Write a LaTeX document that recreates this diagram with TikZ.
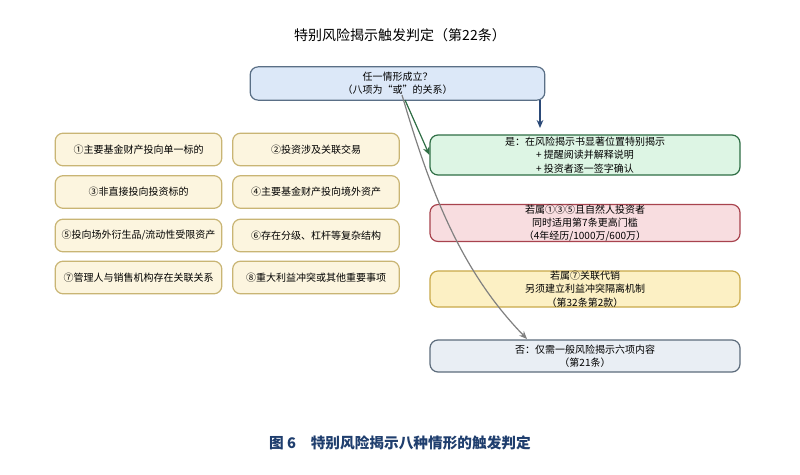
\documentclass[tikz,border=0pt]{standalone}
\usepackage{fontspec}
\setmainfont{Noto Sans CJK SC}
\begin{document}
\begin{tikzpicture}[x=0.75pt,y=-0.75pt,
 box/.style={draw, rounded corners=6pt, line width=0.9pt, align=center, font=\fontsize{7.5}{10}\selectfont, inner sep=0pt},
 lb/.style={box, draw=lbd, fill=lbf, minimum width=125pt, minimum height=24.5pt},
 rb/.style={box, minimum width=232.5pt, minimum height=27pt},
 arr/.style={line width=0.9pt, -{Stealth[length=6pt,width=5pt]}}]
\usetikzlibrary{arrows.meta}
\definecolor{lbf}{HTML}{FCF5DF}\definecolor{lbd}{HTML}{C9B574}
\definecolor{topf}{HTML}{DCE8F8}\definecolor{topd}{HTML}{5A6F86}
\definecolor{gf}{HTML}{DDF5E4}\definecolor{gd}{HTML}{2F6E45}
\definecolor{rf}{HTML}{F8DDE0}\definecolor{rd}{HTML}{A8434E}
\definecolor{yf}{HTML}{FCF0C4}\definecolor{yd}{HTML}{C9A94A}
\definecolor{nf}{HTML}{E9EEF4}\definecolor{nd}{HTML}{5D6C7C}
\definecolor{cap}{HTML}{1F3E6E}\definecolor{ba}{HTML}{2C4A78}
\path[fill=white] (0,0) rectangle (800,475);
\node[font=\fontsize{10.5}{12}\selectfont] (title) at (400,35) {特别风险揭示触发判定（第22条）};
\node[box, draw=topd, fill=topf, minimum width=221pt, minimum height=25pt] (top) at (397.5,83.5) {任一情形成立？\\（八项为“或”的关系）};
\node[lb] (l1) at (138.5,149.5) {①主要基金财产投向单一标的};
\node[lb] (l2) at (316,149.5) {②投资涉及关联交易};
\node[lb] (l3) at (138.5,192) {③非直接投向投资标的};
\node[lb] (l4) at (316,192) {④主要基金财产投向境外资产};
\node[lb] (l5) at (138.5,235.5) {⑤投向场外衍生品/流动性受限资产};
\node[lb] (l6) at (316,235.5) {⑥存在分级、杠杆等复杂结构};
\node[lb] (l7) at (138.5,277.5) {⑦管理人与销售机构存在关联关系};
\node[lb] (l8) at (316,277.5) {⑧重大利益冲突或其他重要事项};
\node[rb, draw=gd, fill=gf, minimum height=30pt] (g) at (585,155) {是：在风险揭示书显著位置特别揭示\\+ 提醒阅读并解释说明\\+ 投资者逐一签字确认};
\node[rb, draw=rd, fill=rf] (r) at (585,223) {若属①③⑤且自然人投资者\\同时适用第7条更高门槛\\（4年经历/1000万/600万）};
\node[rb, draw=yd, fill=yf] (y) at (585,289) {若属⑦关联代销\\另须建立利益冲突隔离机制\\（第32条第2款）};
\node[rb, draw=nd, fill=nf, minimum height=24pt] (n) at (585,356) {否：仅需一般风险揭示六项内容\\（第21条）};
\coordinate (t1) at (540,100);
\coordinate (t2) at (540,128);
\draw[arr, draw=ba] (t1) -- (t2);
\coordinate (gs) at (405,100);
\draw[arr, draw=gd] (gs) -- (g.west);
\coordinate (ns) at (402,95);
\coordinate (ne) at (527,339);
\draw[arr, draw=gray] (ns) .. controls (430,190) and (460,270) .. (ne);
\node[font=\bfseries\fontsize{11}{13}\selectfont, text=cap] (caption) at (400,443) {图 6\quad 特别风险揭示八种情形的触发判定};
\end{tikzpicture}
\end{document}
